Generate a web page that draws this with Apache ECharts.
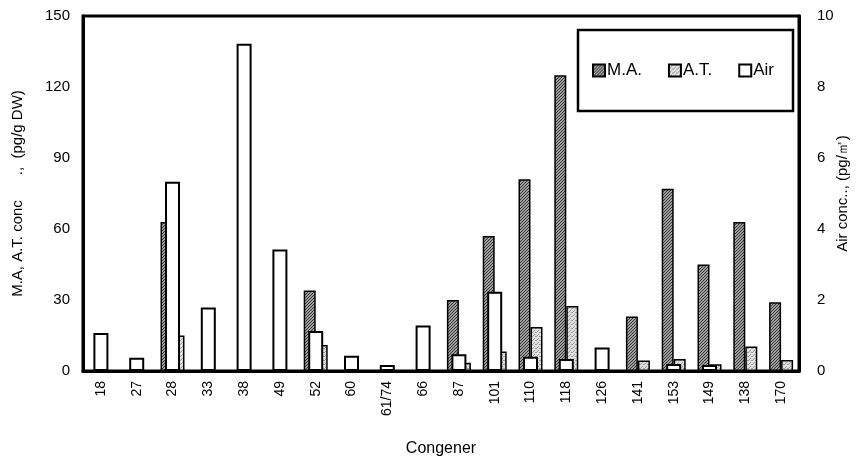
<!DOCTYPE html>
<html><head><meta charset="utf-8">
<script src="https://cdn.jsdelivr.net/npm/echarts@6/dist/echarts.min.js"></script>
<style>html,body{margin:0;padding:0;background:#fff}#c{width:858px;height:458px}</style>
</head><body><div id="c"></div>
<script>
const categories = ['18','27','28','33','38','49','52','60','61/74','66','87','101','110','118','126','141','153','149','138','170'];
const maValues  = [null,null,63,null,null,null,34,null,null,null,30,57,81,125,null,23,77,45,63,29];
const atValues  = [null,null,15,null,null,null,11,null,null,null,3.5,8.2,18.6,27.5,null,4.4,5.1,2.8,10.3,4.6];
const airValues = [1.07,0.37,5.33,1.79,9.22,3.42,1.13,0.43,0.17,1.28,0.47,2.23,0.40,0.34,0.66,null,0.2,0.17,null,null];
const leftTicks = [0,30,60,90,120,150];
const rightTicks = [0,2,4,6,8,10];

function hatch(bg, fg, step){
  const c = document.createElement('canvas'); c.width = step; c.height = step;
  const g = c.getContext('2d'); g.fillStyle = bg; g.fillRect(0,0,step,step);
  g.strokeStyle = fg; g.lineWidth = 1;
  g.beginPath(); g.moveTo(0,step); g.lineTo(step,0); g.moveTo(-1,1); g.lineTo(1,-1); g.moveTo(step-1,step+1); g.lineTo(step+1,step-1); g.stroke();
  return c;
}
function speckle(){
  const c = document.createElement('canvas'); c.width = 4; c.height = 4;
  const g = c.getContext('2d'); g.fillStyle = '#e0e0e0'; g.fillRect(0,0,4,4);
  g.fillStyle = '#9a9a9a'; g.fillRect(0,0,1,1); g.fillRect(2,2,1,1); g.fillRect(3,0,1,1); g.fillRect(1,3,1,1);
  return c;
}
const maFill = {image: hatch('#a0a0a0', '#333333', 3), repeat: 'repeat'};
const atFill = {image: speckle(), repeat: 'repeat'};

const font = 'Liberation Sans';
const chart = echarts.init(document.getElementById('c'));
chart.setOption({
  animation: false,
  textStyle: {fontFamily: font, color: '#000'},
  grid: {left: 83, right: 59, top: 16, bottom: 87, containLabel: false, outerBoundsMode: 'none',
         show: true, borderColor: '#000', borderWidth: 3, backgroundColor: 'transparent'},
  legend: {
    data: [{name: 'M.A.', itemStyle: {color: maFill}}, {name: 'A.T.', itemStyle: {color: atFill}}, {name: 'Air', itemStyle: {color: '#fff'}}],
    left: 578, top: 30,
    padding: [32, 19, 32, 14],
    borderColor: '#000', borderWidth: 2.5,
    itemWidth: 12, itemHeight: 12, itemGap: 26,
    icon: 'rect',
    textStyle: {fontFamily: font, fontSize: 17, color: '#000', padding: [0,0,0,-3]}
  },
  xAxis: [{
    type: 'category', data: categories, gridIndex: 0,
    axisLine: {lineStyle: {color: '#000', width: 3}},
    axisTick: {show: false},
    axisLabel: {rotate: 90, fontSize: 14, color: '#000', margin: 10, fontFamily: font},
    name: 'Congener', nameLocation: 'middle', nameGap: 70, nameMoveOverlap: false,
    nameTextStyle: {fontSize: 16, color: '#000', fontFamily: font}
  },{
    type: 'category', data: categories, show: false, gridIndex: 0
  }],
  yAxis: [{
    type: 'value', min: 0, max: 150, interval: 30, position: 'left',
    axisLine: {show: true, lineStyle: {color: '#000', width: 3}},
    axisTick: {show: false}, splitLine: {show: false},
    axisLabel: {fontSize: 15, color: '#000', margin: 13, fontFamily: font},
    name: 'M.A, A.T. conc      .,  (pg/g DW)', nameLocation: 'middle', nameGap: 58, nameRotate: 90, nameMoveOverlap: false,
    nameTextStyle: {fontSize: 15, color: '#000', fontFamily: font}
  },{
    type: 'value', min: 0, max: 10, interval: 2, position: 'right',
    axisLine: {show: true, lineStyle: {color: '#000', width: 3}},
    axisTick: {show: false}, splitLine: {show: false},
    axisLabel: {fontSize: 15, color: '#000', margin: 18, fontFamily: font},
    name: 'Air conc.., (pg/㎥)', nameLocation: 'middle', nameGap: 36, nameRotate: 90, nameMoveOverlap: false,
    nameTextStyle: {fontSize: 15, color: '#000', fontFamily: font}
  }],
  series: [{
    name: 'M.A.', type: 'bar', xAxisIndex: 0, yAxisIndex: 0, data: maValues,
    barWidth: 12, barGap: '0%', z: 2,
    itemStyle: {color: maFill, borderColor: '#000', borderWidth: 1.5}
  },{
    name: 'A.T.', type: 'bar', xAxisIndex: 0, yAxisIndex: 0, data: atValues,
    barWidth: 12, barGap: '0%', z: 2,
    itemStyle: {color: atFill, borderColor: '#000', borderWidth: 1.5}
  },{
    name: 'Air', type: 'bar', xAxisIndex: 1, yAxisIndex: 1, data: airValues,
    barWidth: 15, z: 3,
    itemStyle: {color: '#fff', borderColor: '#000', borderWidth: 2}
  }]
});
</script></body></html>
